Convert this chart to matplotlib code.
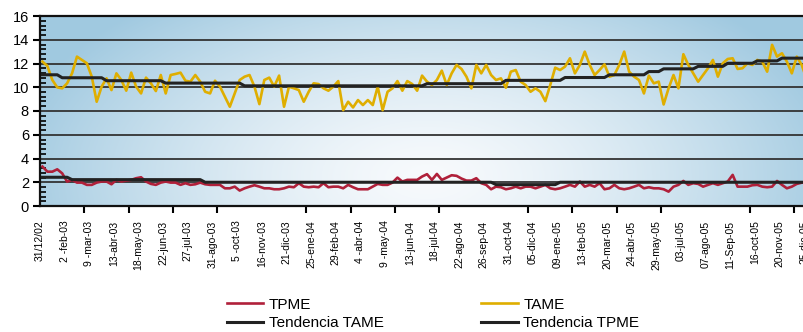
import numpy as np
import matplotlib.pyplot as plt
from matplotlib.ticker import MultipleLocator, FixedLocator

plt.rcParams['font.family'] = ['Liberation Sans', 'DejaVu Sans']

# weekly rates (%)
tame = [12.16, 11.79, 10.61, 9.99, 9.91, 10.33, 11.17, 12.58, 12.3, 12.02,
        10.89, 8.78, 10.05, 10.75, 9.76, 11.17, 10.61, 9.71, 11.23, 10.05,
        9.48, 10.81, 10.33, 9.68, 11.03, 9.48, 11.03, 11.12, 11.23, 10.55,
        10.47, 11.03, 10.47, 9.62, 9.48, 10.55, 10.05, 9.2, 8.36, 9.48,
        10.61, 10.89, 11.03, 10.05, 8.58, 10.61, 10.81, 10.05, 10.98, 8.36,
        10.05, 9.91, 9.76, 8.78, 9.62, 10.33, 10.27, 9.91, 9.71, 10.05,
        10.52, 8.07, 8.78, 8.3, 8.92, 8.5, 8.92, 8.5, 10.05, 8.07,
        9.62, 9.91, 10.52, 9.71, 10.52, 10.27, 9.71, 10.98,
        10.47, 10.19, 10.61, 11.4, 10.19, 11.17, 11.88, 11.54, 10.89, 9.91,
        11.88, 11.17, 11.88, 11.03, 10.61, 10.75, 9.96, 11.31, 11.45, 10.47,
        10.19, 9.62, 9.91, 9.62, 8.83, 10.19, 11.65, 11.45, 11.74, 12.44,
        11.17, 11.88, 13.0, 11.88, 11.03, 11.45, 11.93, 10.89, 11.03, 11.88,
        13.0, 11.31, 10.89, 10.61, 9.48, 10.98, 10.33, 10.47, 8.55, 9.91,
        11.03, 9.91, 12.78, 11.88, 11.17, 10.47, 11.03, 11.6, 12.3, 10.89,
        12.02, 12.38, 12.44, 11.54, 11.6, 12.02, 11.88, 12.3, 12.16, 11.31,
        13.57, 12.58, 12.86, 12.16, 11.17, 12.58, 11.88, 10.69]

tpme = [3.32, 2.89, 2.89, 3.09, 2.75, 2.05, 2.2, 1.97, 1.97, 1.78,
        1.78, 1.97, 2.06, 2.06, 1.83, 2.2, 2.06, 2.14, 2.2, 2.34,
        2.42, 2.06, 1.86, 1.78, 1.97, 2.06, 1.97, 1.97, 1.78, 1.92,
        1.78, 1.83, 1.97, 1.83, 1.78, 1.78, 1.78, 1.49, 1.49, 1.63,
        1.3, 1.49, 1.63, 1.75, 1.63, 1.49,
        1.49, 1.41, 1.41, 1.49, 1.63, 1.58, 1.92, 1.63, 1.58, 1.63,
        1.58, 1.92, 1.58, 1.63, 1.63, 1.49, 1.78, 1.58, 1.41, 1.41,
        1.41, 1.63, 1.86, 1.78, 1.78, 1.97, 2.39, 2.06, 2.2, 2.2,
        2.2, 2.48, 2.68, 2.2, 2.7, 2.2, 2.39, 2.59, 2.54, 2.31,
        2.14, 2.14, 2.34, 1.92, 1.78, 1.41, 1.63, 1.58, 1.41, 1.49,
        1.63, 1.49, 1.63,
        1.63, 1.49, 1.63, 1.78, 1.49, 1.41, 1.49, 1.63, 1.78, 1.63,
        2.06, 1.63, 1.78, 1.63, 1.92, 1.41, 1.49, 1.78, 1.49, 1.41,
        1.49, 1.63, 1.78, 1.49, 1.58, 1.49, 1.49, 1.41, 1.21, 1.63,
        1.78, 2.11, 1.78, 1.92, 1.86, 1.63, 1.78, 1.92, 1.78, 1.92,
        2.06, 2.62, 1.63, 1.63, 1.63, 1.75, 1.78, 1.63, 1.58, 1.63,
        2.11, 1.78, 1.49, 1.63, 1.86, 1.97, 2.06]

# trend lines are step series: level and number of weeks at that level
tend_tame_levels = [11.05, 10.8, 10.55, 10.35, 10.12, 10.3, 10.58, 10.82,
                    11.05, 11.32, 11.55, 11.76, 12.02, 12.22, 12.45]
tend_tame_weeks = [4, 9, 12, 16, 37, 16, 12, 9, 8, 3, 7, 6, 6, 5, 6]
tend_tpme_levels = [2.42, 2.22, 2.0, 1.8, 2.0]
tend_tpme_weeks = [6, 27, 59, 13, 51]

date_labels = ['31/12/02', '2 -feb-03', '9 -mar-03', '13-abr-03', '18-may-03',
               '22-jun-03', '27-jul-03', '31-ago-03', '5 -oct-03', '16-nov-03',
               '21-dic-03', '25-ene-04', '29-feb-04', '4 -abr-04', '9 -may-04',
               '13-jun-04', '18-jul-04', '22-ago-04', '26-sep-04', '31-oct-04',
               '05-dic-04', '09-ene-05', '13-feb-05', '20-mar-05', '24-abr-05',
               '29-may-05', '03-jul-05', '07-ago-05', '11-Sep-05', '16-oct-05',
               '20-nov-05', '25-dic-05']

tend_tame = np.repeat(tend_tame_levels, tend_tame_weeks)
tend_tpme = np.repeat(tend_tpme_levels, tend_tpme_weeks)
x = np.arange(len(tame))
n = len(tame)

fig = plt.figure(figsize=(8.04, 3.32), dpi=100)
# plot area runs past the right edge of the picture, as in the original
ax = fig.add_axes([40 / 804, 126 / 332, (n + 1) * 4.93 / 804, 190 / 332])
ax.set_xlim(-0.5, n + 0.5)
ax.set_ylim(0, 16)

# blue background, lighter towards the lower middle
gx, gy = np.meshgrid(np.linspace(0, 1, 400), np.linspace(0, 1, 120))
t = np.sqrt(((gx - 0.5) / 0.55) ** 2 + ((gy - 0.15) / 1.2) ** 2)
t = np.clip(t, 0, 1) ** 1.4
light = np.array([0.97, 0.98, 0.99])
dark = np.array([0.63, 0.79, 0.88])
img = light + (dark - light) * t[..., None]
ax.imshow(img, extent=(0, 1, 0, 1), transform=ax.transAxes, aspect='auto',
          origin='lower', zorder=0)

for v in range(2, 16, 2):
    ax.axhline(v, color='#333333', lw=1.3, zorder=1)

ax.plot(x, tpme, color='#b0203a', lw=1.9, zorder=3, label='TPME')
ax.plot(x, tame, color='#dfae00', lw=1.9, zorder=3, label='TAME')
ax.plot(x, tend_tame, color='#222222', lw=2.2, zorder=4, label='Tendencia TAME')
ax.plot(x, tend_tpme, color='#222222', lw=2.2, zorder=4, label='Tendencia TPME')

for side in ['left', 'bottom', 'top']:
    ax.spines[side].set_color('#111111')
    ax.spines[side].set_linewidth(1.6)
ax.spines['right'].set_visible(False)

ax.yaxis.set_major_locator(MultipleLocator(2))
ax.yaxis.set_minor_locator(MultipleLocator(0.4))
ax.tick_params(axis='y', which='major', length=5, width=1.5, pad=3,
               labelsize=10.5, direction='out')
ax.tick_params(axis='y', which='minor', length=4, width=1.2, direction='in')

ax.set_xticks([5 * j - 0.5 for j in range(len(date_labels))])
ax.set_xticklabels(date_labels, rotation=90, fontsize=7.5)
ax.xaxis.set_minor_locator(FixedLocator([9 * k - 0.5 for k in range(19)]))
ax.tick_params(axis='x', which='major', length=0, pad=10.5)
ax.tick_params(axis='x', which='minor', length=5, width=1.5, direction='out')

h, l = ax.get_legend_handles_labels()
order = [0, 2, 1, 3]
fig.legend([h[i] for i in order], [l[i] for i in order], ncol=2,
           loc='upper left', bbox_to_anchor=(219 / 804, 1 - 290 / 332),
           frameon=False, fontsize=11, handlelength=2.4, handletextpad=0.35,
           columnspacing=6.4, labelspacing=0.3, borderpad=0)

fig.savefig('out.png', dpi=100)
